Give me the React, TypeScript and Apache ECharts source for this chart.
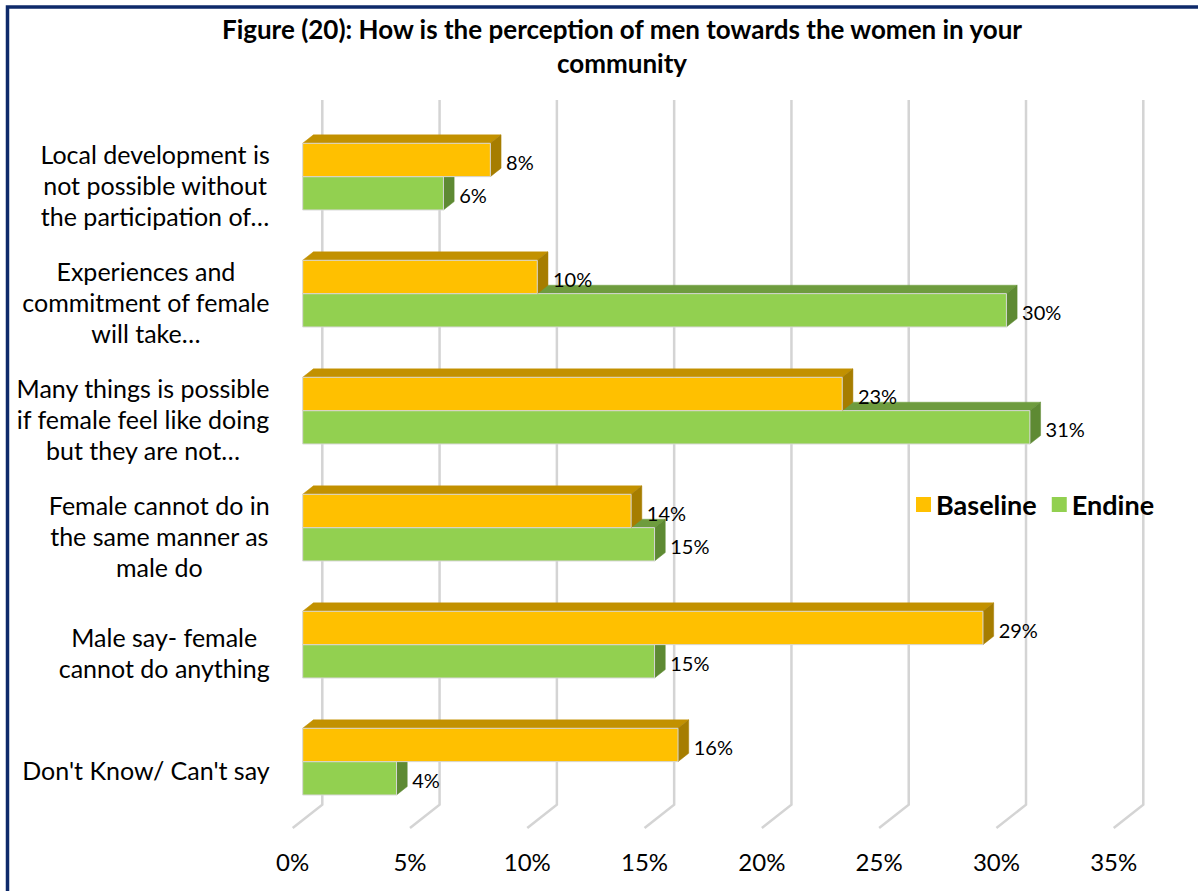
import React, { useEffect, useRef } from 'react';
import * as echarts from 'echarts';

const categories = [
  'Local development is\nnot possible without\nthe participation of…',
  'Experiences and\ncommitment of female\nwill take…',
  'Many things is possible\nif female feel like doing\nbut they are not…',
  'Female cannot do in\nthe same manner as\nmale do',
  'Male say- female\ncannot do anything',
  "Don't Know/ Can't say",
];
const seriesNames = ['Baseline', 'Endine'];
const baselineValues = [8, 10, 23, 14, 29, 16];
const endineValues = [6, 30, 31, 15, 15, 4];
const xTicks = [0, 5, 10, 15, 20, 25, 30, 35];

const FONT = 'Lato, "Open Sans", sans-serif';
const SLOPE = 23.3 / 29.6;
const FRONT_D = 10;
const BAR_D = 10.7;
const WALL_D = 29.6;

const COLORS = [
  { front: '#FFC000', top: '#C29100', side: '#A67D00' },
  { front: '#92D050', top: '#6E9C3E', side: '#5E8A33' },
];

function makeBarRenderer(which: number) {
  const c = COLORS[which];
  return (params: any, api: any) => {
    const val = api.value(0);
    const cat = api.value(1);
    const p0 = api.coord([0, cat]);
    const p1 = api.coord([val, cat]);
    const band = api.size([0, 1])[1];
    const h = band * 0.285;
    const yTop = which === 0 ? p0[1] - h : p0[1];
    const fx0 = p0[0] + FRONT_D;
    const fx1 = p1[0] + FRONT_D;
    const fyT = yTop - FRONT_D * SLOPE;
    const fyB = fyT + h;
    const bdy = BAR_D * SLOPE;
    return {
      type: 'group',
      children: [
        {
          type: 'polygon',
          shape: { points: [[fx0, fyT], [fx0 + BAR_D, fyT - bdy], [fx1 + BAR_D, fyT - bdy], [fx1, fyT]] },
          style: { fill: c.top, stroke: c.top, lineWidth: 0.5 },
        },
        {
          type: 'polygon',
          shape: { points: [[fx1, fyT], [fx1 + BAR_D, fyT - bdy], [fx1 + BAR_D, fyB - bdy], [fx1, fyB]] },
          style: { fill: c.side, stroke: c.side, lineWidth: 0.5 },
        },
        {
          type: 'rect',
          shape: { x: fx0, y: fyT, width: fx1 - fx0, height: h },
          style: { fill: c.front, stroke: '#D6D6D6', lineWidth: 1 },
        },
        {
          type: 'text',
          x: fx1 + BAR_D + 5,
          y: (fyT + fyB) / 2 + 2,
          style: {
            text: val + '%',
            fill: '#000',
            fontSize: 20,
            fontFamily: FONT,
            align: 'left',
            verticalAlign: 'middle',
            textAlign: 'left',
            textVerticalAlign: 'middle',
          },
        },
      ],
    };
  };
}

function gridRenderer(params: any, api: any) {
  const p = api.coord([api.value(0), 0]);
  const cs = params.coordSys;
  const bottom = cs.y + cs.height;
  const x = p[0];
  return {
    type: 'polyline',
    shape: {
      points: [
        [x, bottom],
        [x + WALL_D, bottom - WALL_D * SLOPE],
        [x + WALL_D, cs.y - 26],
      ],
    },
    style: { stroke: '#D4D4D4', lineWidth: 2.5, fill: 'none' },
  };
}

export default function App() {
  const ref = useRef<HTMLDivElement>(null);
  useEffect(() => {
    if (!ref.current) return;
    const chart = echarts.init(ref.current, undefined, { renderer: 'svg' });
    const option: any = {
      animation: false,
      backgroundColor: '#fff',
      textStyle: { fontFamily: FONT },
      graphic: [
        {
          type: 'rect',
          shape: { x: 7.5, y: 7, width: 1400, height: 1000 },
          style: { fill: 'none', stroke: '#0E2A6A', lineWidth: 3.5 },
          silent: true,
        },
        {
          type: 'text',
          x: 622,
          y: 12,
          style: {
            text: 'Figure (20): How is the perception of men towards the women in your\ncommunity',
            fill: '#000',
            fontSize: 26,
            fontWeight: 'bold',
            fontFamily: FONT,
            lineHeight: 34,
            align: 'center',
            verticalAlign: 'top',
            textAlign: 'center',
            textVerticalAlign: 'top',
          },
        },
      ],
      legend: {
        data: seriesNames,
        left: 916,
        top: 491,
        padding: 0,
        itemWidth: 15,
        itemHeight: 15,
        itemGap: 15,
        icon: 'rect',
        textStyle: { fontFamily: FONT, fontWeight: 'bold', fontSize: 27, color: '#000' },
      },
      grid: { left: 292.7, top: 126, width: 821, height: 702, containLabel: false },
      xAxis: {
        type: 'value',
        min: 0,
        max: 35,
        interval: 5,
        axisLine: { show: false },
        axisTick: { show: false },
        splitLine: { show: false },
        axisLabel: { formatter: '{value}%', fontSize: 24, fontFamily: FONT, color: '#000', margin: 21 },
      },
      yAxis: {
        type: 'category',
        data: categories,
        inverse: true,
        axisLine: { show: false },
        axisTick: { show: false },
        splitLine: { show: false },
        axisLabel: {
          align: 'right',
          margin: 23,
          interval: 0,
          formatter: (v: string) => v.split('\n').map((l) => '{c|' + l + '}').join('\n'),
          rich: { c: { align: 'center', fontSize: 25, lineHeight: 31, fontFamily: FONT, color: '#000' } },
        },
      },
      series: [
        {
          type: 'custom',
          name: 'grid',
          silent: true,
          z: 1,
          renderItem: gridRenderer,
          data: xTicks.map((v) => [v, 0]),
          encode: { x: 0, y: 1 },
        },
        {
          type: 'custom',
          name: seriesNames[1],
          z: 2,
          itemStyle: { color: COLORS[1].front },
          renderItem: makeBarRenderer(1),
          data: endineValues.map((v, i) => [v, i]),
          encode: { x: 0, y: 1 },
        },
        {
          type: 'custom',
          name: seriesNames[0],
          z: 3,
          itemStyle: { color: COLORS[0].front },
          renderItem: makeBarRenderer(0),
          data: baselineValues.map((v, i) => [v, i]),
          encode: { x: 0, y: 1 },
        },
      ],
    };
    chart.setOption(option);
    return () => chart.dispose();
  }, []);
  return <div ref={ref} style={{ position: 'absolute', left: 0, top: 0, width: 1198, height: 891 }} />;
}
